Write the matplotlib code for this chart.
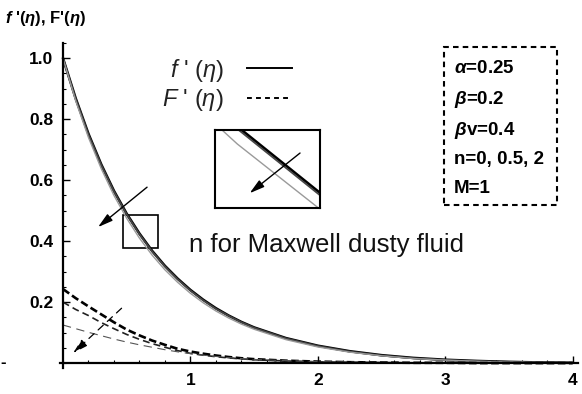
import matplotlib
matplotlib.use("Agg")
import matplotlib.pyplot as plt
from matplotlib.lines import Line2D
from matplotlib.patches import Rectangle
from matplotlib.ticker import MultipleLocator, FixedLocator

plt.rcParams['font.family'] = ['Liberation Sans', 'DejaVu Sans']
plt.rcParams['mathtext.fontset'] = 'custom'
plt.rcParams['mathtext.rm'] = 'Liberation Sans'
plt.rcParams['mathtext.it'] = 'Liberation Sans:italic'
plt.rcParams['mathtext.bf'] = 'Liberation Sans:bold'
plt.rcParams['mathtext.sf'] = 'Liberation Sans:bold:italic'
plt.rcParams['lines.scale_dashes'] = False

# ---- data ----
eta = [0.0, 0.1, 0.2, 0.3, 0.4, 0.5, 0.6, 0.7, 0.8, 0.9, 1.0, 1.1, 1.2, 1.3, 1.4, 1.5,
       1.75, 2.0, 2.25, 2.5, 2.75, 3.0, 3.25, 3.5, 3.75, 4.0]

f_n0 = [1.0, 0.868, 0.752, 0.652, 0.565, 0.490, 0.425, 0.368, 0.319, 0.277, 0.240, 0.208,
        0.180, 0.156, 0.135, 0.117, 0.082, 0.057, 0.039, 0.026, 0.017, 0.011, 0.007, 0.004,
        0.002, 0.001]
f_n05 = [1.0, 0.867, 0.750, 0.650, 0.563, 0.488, 0.423, 0.366, 0.317, 0.275, 0.238, 0.206,
         0.178, 0.155, 0.134, 0.116, 0.081, 0.056, 0.038, 0.025, 0.016, 0.010, 0.006, 0.004,
         0.002, 0.001]
f_n2 = [1.0, 0.860, 0.740, 0.638, 0.550, 0.475, 0.410, 0.354, 0.306, 0.265, 0.229, 0.198,
        0.171, 0.148, 0.128, 0.111, 0.077, 0.053, 0.036, 0.024, 0.015, 0.010, 0.006, 0.003,
        0.002, 0.001]

F_n0 = [0.243, 0.213, 0.186, 0.160, 0.134, 0.110, 0.091, 0.074, 0.060, 0.047, 0.038, 0.031,
        0.025, 0.020, 0.016, 0.013, 0.008, 0.005, 0.003, 0.002, 0.001, 0.001, 0.0, 0.0, 0.0, 0.0]
F_n05 = [0.200, 0.176, 0.156, 0.133, 0.113, 0.094, 0.078, 0.064, 0.052, 0.041, 0.032, 0.026,
         0.021, 0.017, 0.014, 0.011, 0.007, 0.004, 0.003, 0.002, 0.001, 0.001, 0.0, 0.0, 0.0, 0.0]
F_n2 = [0.125, 0.113, 0.101, 0.090, 0.079, 0.069, 0.060, 0.052, 0.044, 0.037, 0.031, 0.026,
        0.022, 0.018, 0.015, 0.012, 0.008, 0.005, 0.003, 0.002, 0.001, 0.001, 0.0, 0.0, 0.0, 0.0]

x_ticks = [1, 2, 3, 4]
y_ticks = [0.2, 0.4, 0.6, 0.8, 1.0]
x_ticklabels = ["1", "2", "3", "4"]
y_ticklabels = ["0.2", "0.4", "0.6", "0.8", "1.0"]

params = [r"$\mathsf{\alpha}$=0.25", r"$\mathsf{\beta}$=0.2", r"$\mathsf{\beta}$v=0.4",
          "n=0, 0.5, 2", "M=1"]
ylabel = r"$\mathsf{f}$ '($\mathsf{\eta}$), F'($\mathsf{\eta}$)"
legend_labels = [r"$f$ ' ($\eta$)", r"$F$ ' ($\eta$)"]
note = "n for Maxwell dusty fluid"

# ---- figure ----
fig = plt.figure(figsize=(5.82, 3.94), dpi=100)
ax = fig.add_axes([0.1027, 0.066, 0.890, 0.825])

solid_styles = [dict(color='black', lw=1.9), dict(color='#444444', lw=1.3), dict(color='#9a9a9a', lw=1.0)]
dash_styles = [dict(color='black', lw=1.9, dashes=(5.5, 2.5)),
               dict(color='#222222', lw=1.2, dashes=(5, 3)),
               dict(color='#555555', lw=0.8, dashes=(6, 4))]

for ys, st in zip([f_n0, f_n05, f_n2], solid_styles):
    ax.plot(eta, ys, solid_capstyle='round', **st)
for ys, st in zip([F_n0, F_n05, F_n2], dash_styles):
    ax.plot(eta, ys, **st)

ax.set_xlim(-0.025, 4.04)
ax.set_ylim(-0.016, 1.05)
for s in ['top', 'right']:
    ax.spines[s].set_visible(False)
ax.spines['left'].set_position(('data', 0))
ax.spines['bottom'].set_position(('data', 0))
ax.spines['left'].set_linewidth(1.6)
ax.spines['bottom'].set_linewidth(1.6)
ax.spines['left'].set_bounds(-0.016, 1.05)
ax.spines['bottom'].set_bounds(-0.025, 4.04)

ax.xaxis.set_major_locator(FixedLocator(x_ticks))
ax.yaxis.set_major_locator(FixedLocator(y_ticks))
ax.set_xticklabels(x_ticklabels)
ax.set_yticklabels(y_ticklabels)
ax.xaxis.set_minor_locator(MultipleLocator(0.2))
ax.yaxis.set_minor_locator(MultipleLocator(0.05))
ax.tick_params(which='major', direction='in', length=5, width=1.0, labelsize=12.5, pad=7)
ax.tick_params(which='minor', direction='in', length=2.5, width=0.8)
for lab in ax.get_xticklabels() + ax.get_yticklabels():
    lab.set_fontweight('bold')

# y label at top-left
fig.text(0.008, 0.952, ylabel, fontsize=12, fontweight='bold', ha='left', va='center')
fig.text(0.0, 0.079, "-", fontsize=12, fontweight='bold', ha='left', va='center')

# legend
handles = [Line2D([], [], color='black', lw=1.4),
           Line2D([], [], color='black', lw=1.4, dashes=(3.5, 3))]
leg = ax.legend(handles, legend_labels, markerfirst=False, frameon=False,
                loc='upper left', bbox_to_anchor=(0.197, 0.958), fontsize=17,
                handlelength=1.9, handletextpad=1.0, labelspacing=0.15, borderaxespad=0,
                borderpad=0)
for t in leg.get_texts():
    t.set_color('#222222')

# parameter box
ax.add_patch(Rectangle((0.742, 0.5), 0.217, 0.4875, transform=ax.transAxes, fill=False,
                       lw=1.5, ls=(0, (4, 3)), clip_on=False))
for txt, yy in zip(params, [0.922, 0.825, 0.731, 0.641, 0.553]):
    ax.text(0.761, yy, txt, transform=ax.transAxes, fontsize=13.5, fontweight='bold',
            ha='left', va='center')

# note text
ax.text(0.25, 0.378, note, transform=ax.transAxes, fontsize=18.5, ha='left', va='center',
        color='#111111')

# small box marking the zoomed region
ax.add_patch(Rectangle((0.47, 0.377), 0.275, 0.108, fill=False, lw=1.2, color='black'))

# arrows
ax.annotate("", xy=(0.275, 0.446), xytext=(0.66, 0.577),
            arrowprops=dict(arrowstyle='-|>,head_length=0.9,head_width=0.25', color='black',
                            lw=1.0, shrinkA=0, shrinkB=0))
ax.annotate("", xy=(0.08, 0.033), xytext=(0.46, 0.18),
            arrowprops=dict(arrowstyle='-|>,head_length=0.9,head_width=0.25', color='black',
                            lw=0.9, ls=(0, (5, 4)), shrinkA=0, shrinkB=0))

# inset
ins = fig.add_axes([0.3694, 0.472, 0.1804, 0.198])
for ys, st in zip([f_n0, f_n05, f_n2], solid_styles):
    ins.plot(eta, ys, **st)
ins.set_xlim(0.573, 0.700)
ins.set_ylim(0.355, 0.422)
ins.set_xticks([])
ins.set_yticks([])
for s in ins.spines.values():
    s.set_linewidth(1.5)
ins.annotate("", xy=(0.33, 0.19), xytext=(0.81, 0.705), xycoords='axes fraction',
             textcoords='axes fraction',
             arrowprops=dict(arrowstyle='-|>,head_length=0.9,head_width=0.25', color='black',
                             lw=1.0, shrinkA=0, shrinkB=0))

fig.savefig("out.png", dpi=100)
